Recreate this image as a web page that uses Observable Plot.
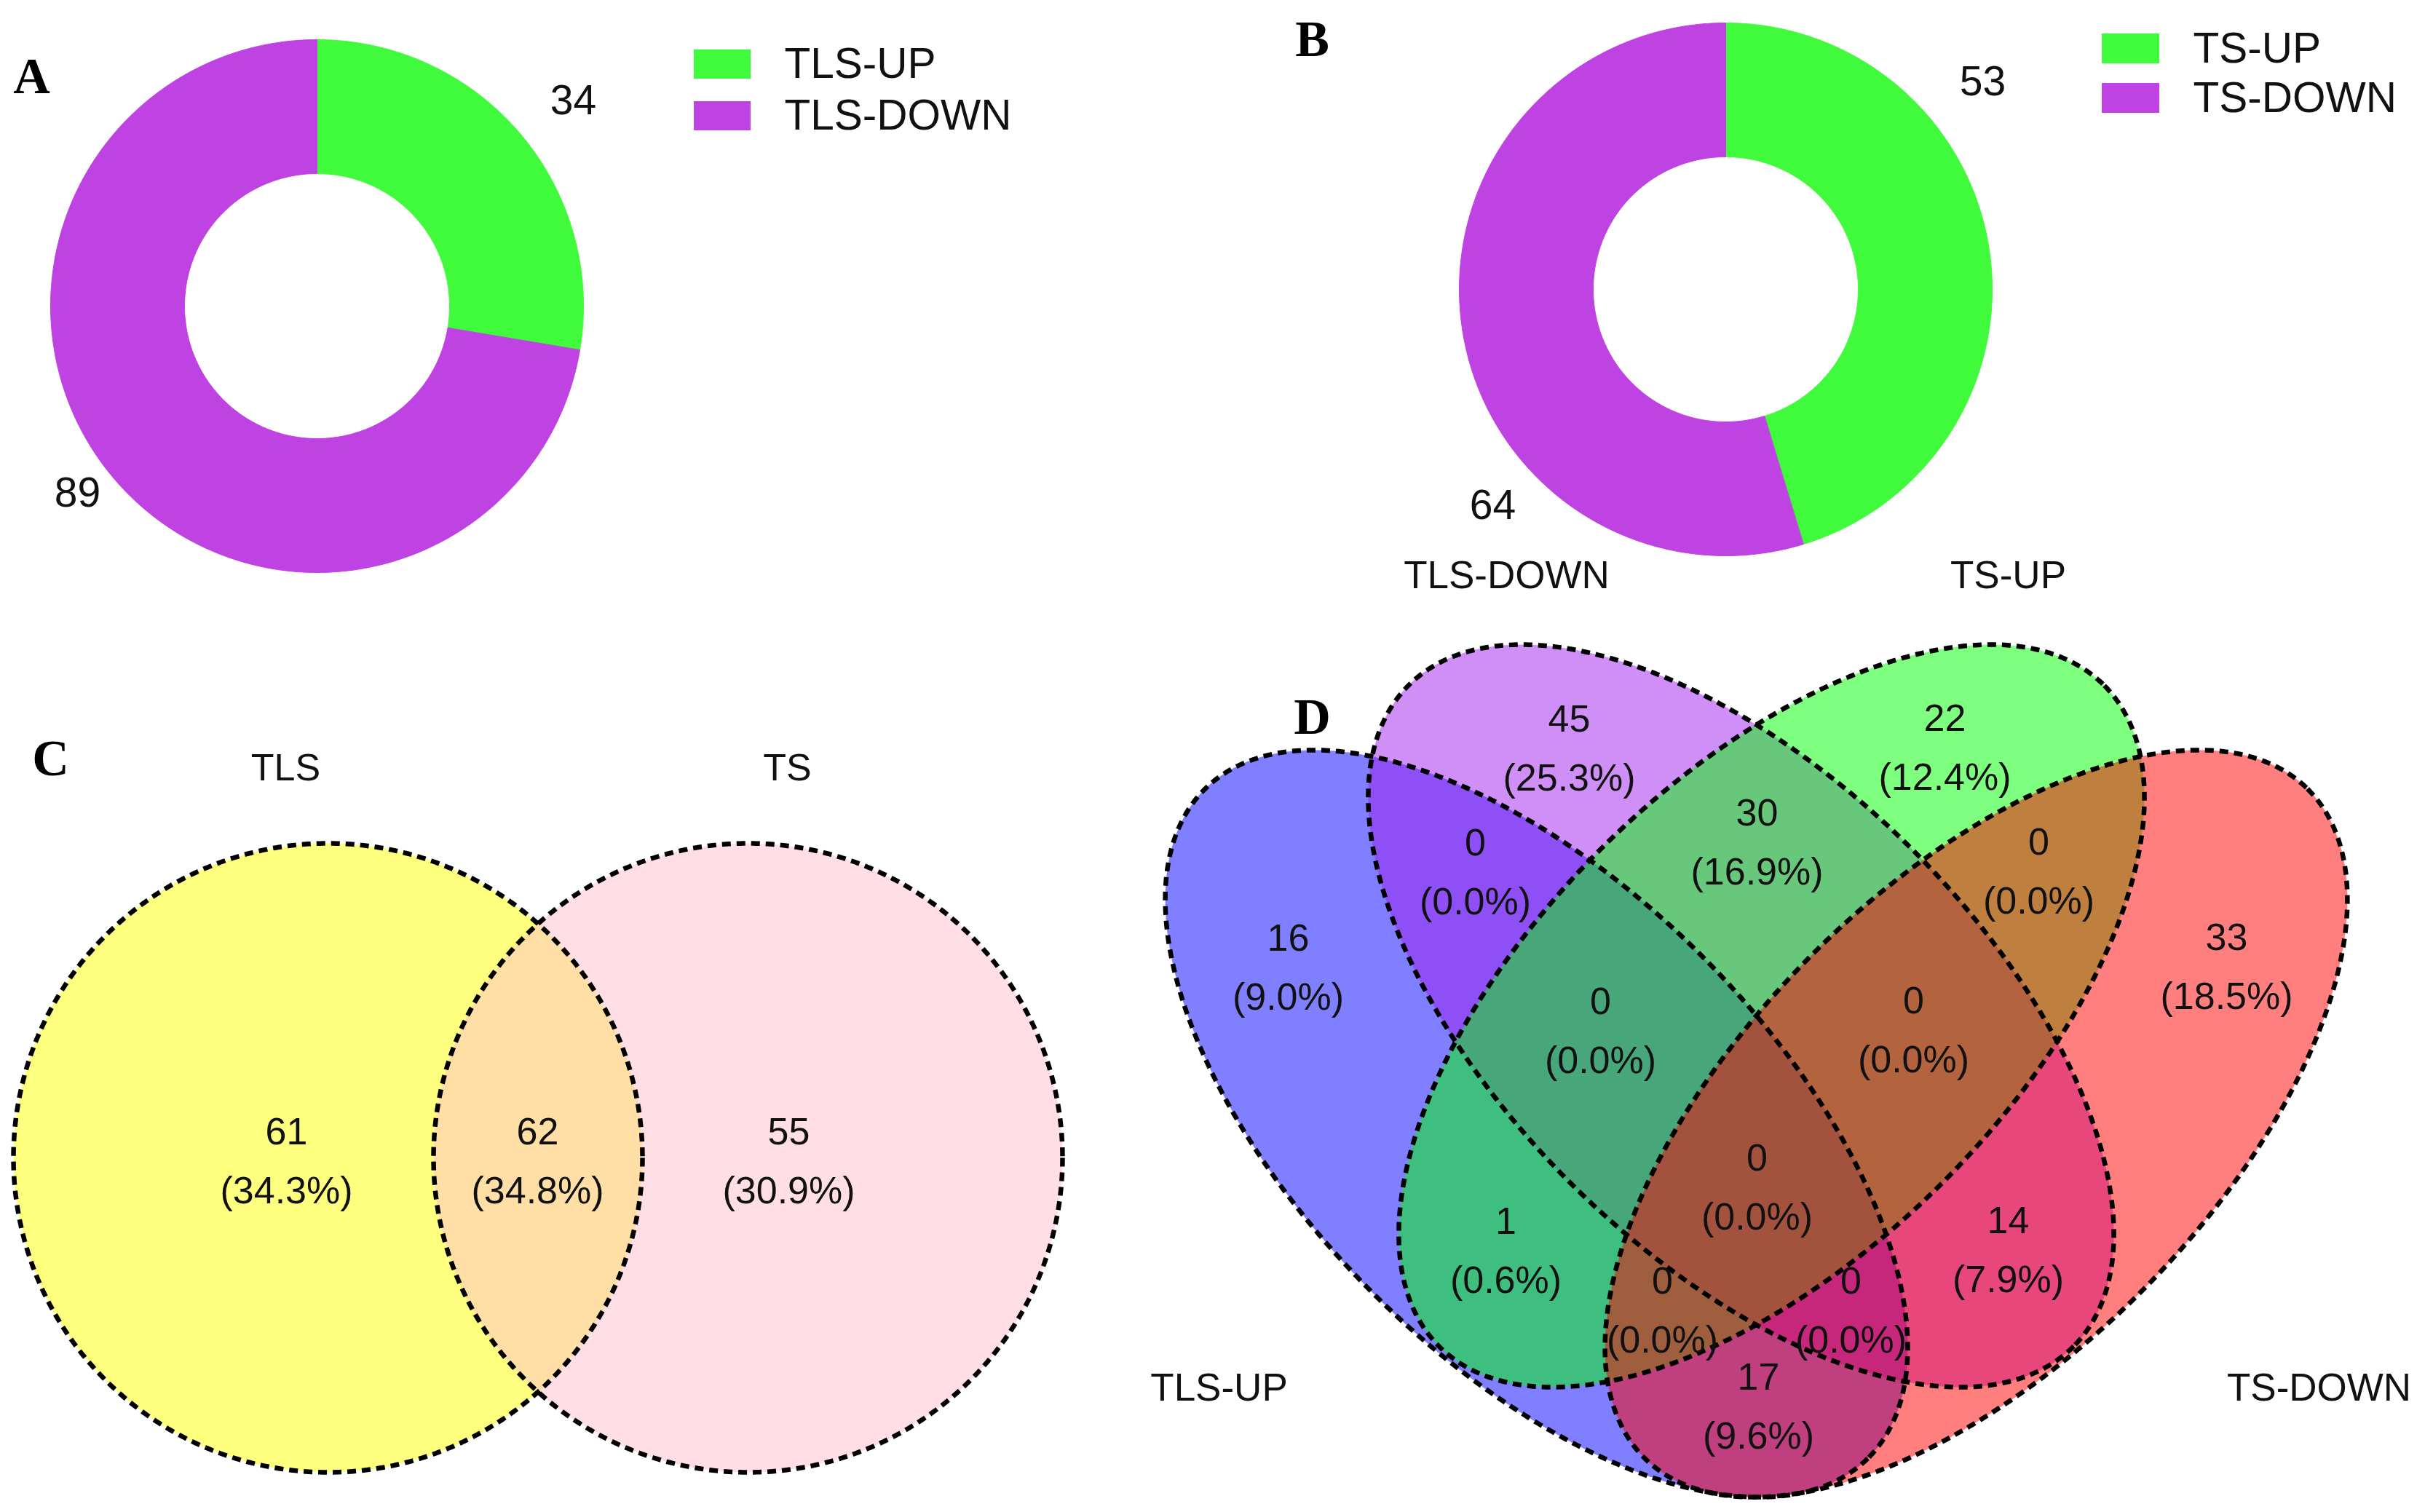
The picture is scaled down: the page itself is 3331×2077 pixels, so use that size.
<!DOCTYPE html>
<html>
<head>
<meta charset="utf-8">
<script src="https://cdn.jsdelivr.net/npm/d3@7"></script>
<script src="https://cdn.jsdelivr.net/npm/@observablehq/plot@0.6"></script>
<style>
  html, body { margin: 0; padding: 0; background: #fff; }
  #chart { width: 3331px; height: 2077px; overflow: hidden; }
</style>
</head>
<body>
<div id="chart"></div>
<script>
// ---------------- DATA ----------------
const tlsCategories = ["TLS-UP", "TLS-DOWN"];
const tlsValues = [34, 89];
const tsCategories = ["TS-UP", "TS-DOWN"];
const tsValues = [53, 64];

const venn2Sets = ["TLS", "TS"];
const venn2Regions = ["TLS only", "TLS & TS", "TS only"];
const venn2Counts = [61, 62, 55];

const venn4Sets = ["TLS-UP", "TLS-DOWN", "TS-UP", "TS-DOWN"];
const venn4Regions = [
  "TLS-UP", "TLS-DOWN", "TS-UP", "TS-DOWN",
  "TLS-UP&TLS-DOWN", "TLS-DOWN&TS-UP", "TS-UP&TS-DOWN",
  "TLS-UP&TLS-DOWN&TS-UP", "TLS-DOWN&TS-UP&TS-DOWN", "ALL",
  "TLS-UP&TS-UP", "TLS-DOWN&TS-DOWN",
  "TLS-UP&TS-UP&TS-DOWN", "TLS-UP&TLS-DOWN&TS-DOWN", "TLS-UP&TS-DOWN"
];
const venn4Counts = [16, 45, 22, 33, 0, 30, 0, 0, 0, 0, 1, 14, 0, 0, 17];

// ---------------- LAYOUT / STYLE ----------------
const W = 3331, H = 2077;
const sans = "'Liberation Sans', Arial, Helvetica, sans-serif";
const serif = "'Liberation Serif', 'Times New Roman', serif";
const pieColors = ["#40FB3C", "#BF43E3"];

const donutA = {cx: 435, cy: 420, R: 366, r: 182};
const donutB = {cx: 2370, cy: 397, R: 366, r: 182};
const pieLabelPosA = [[787, 138], [106, 677]];
const pieLabelPosB = [[2723, 112], [2050, 694]];
const legendA = {x: 953, y: 68, w: 78, h: 40, step: 71, tx: 1077};
const legendB = {x: 2887, y: 46, w: 79, h: 41, step: 68, tx: 3012};

const circlesC = [
  {cx: 450, cy: 1590, r: 432, fill: "#FFFF00"},
  {cx: 1027, cy: 1590, r: 432, fill: "#FFC0CB"}
];
const setLabelPosC = [[392, 1055], [1081, 1055]];
const regionLabelPosC = [[393, 1595], [738, 1595], [1083, 1595]];

const ellipsesD = [
  {cx: 2110, cy: 1543, a: 647, b: 323.5, angle: 45.3, fill: "#0000FF"},
  {cx: 2391, cy: 1395, a: 644, b: 328, angle: 44.8, fill: "#A020F0"},
  {cx: 2433, cy: 1395, a: 644, b: 328, angle: -44.8, fill: "#00FF00"},
  {cx: 2714, cy: 1543, a: 647, b: 323.5, angle: -45.3, fill: "#FF0000"}
];
const regionLabelPosD = [
  [1769, 1329], [2155, 1028], [2671, 1027], [3058, 1328],
  [2026, 1198], [2413, 1157], [2800, 1197],
  [2198, 1416], [2628, 1415], [2413, 1631],
  [2068, 1718], [2758, 1717],
  [2283, 1800], [2542, 1800], [2415, 1932]
];
const setLabelPosD = [[1674, 1907], [2069, 791], [2758, 791], [3185, 1907]];
const panelLetters = [["A", 43, 105], ["B", 1802, 54], ["C", 69, 1042], ["D", 1802, 985]];
const twoLineShift = -9; // compensates Plot's multi-line vertical anchoring

// ---------------- GEOMETRY HELPERS ----------------
function donutRows(values, cats, d) {
  const arcs = d3.pie().sort(null)(values);
  const rows = [];
  arcs.forEach((a, i) => {
    const n = 240;
    for (let k = 0; k <= n; k++) {
      const t = a.startAngle + (a.endAngle - a.startAngle) * k / n;
      rows.push({id: cats[i], i, x: d.cx + d.R * Math.sin(t), y: d.cy - d.R * Math.cos(t)});
    }
    for (let k = n; k >= 0; k--) {
      const t = a.startAngle + (a.endAngle - a.startAngle) * k / n;
      rows.push({id: cats[i], i, x: d.cx + d.r * Math.sin(t), y: d.cy - d.r * Math.cos(t)});
    }
  });
  return rows;
}
function ellipseRows(e) {
  const rows = [];
  const phi = e.angle * Math.PI / 180;
  const a = e.a ?? e.r, b = e.b ?? e.r;
  for (let k = 0; k < 720; k++) {
    const t = k / 720 * 2 * Math.PI;
    const u = a * Math.cos(t), v = b * Math.sin(t);
    rows.push({
      x: e.cx + u * Math.cos(phi) - v * Math.sin(phi),
      y: e.cy + u * Math.sin(phi) + v * Math.cos(phi)
    });
  }
  return rows;
}

// ---------------- MARKS ----------------
const marks = [];

// Donuts A and B
function addDonut(values, cats, d, labelPos, legend) {
  const rows = donutRows(values, cats, d);
  cats.forEach((c, i) => {
    marks.push(Plot.line(rows.filter(r => r.i === i), {
      x: "x", y: "y", curve: "linear-closed",
      fill: pieColors[i], stroke: pieColors[i], strokeWidth: 1
    }));
  });
  marks.push(Plot.text(values, {
    x: (v, i) => labelPos[i][0], y: (v, i) => labelPos[i][1],
    text: v => String(v), fontSize: 57, fontFamily: sans, fill: "#111"
  }));
  const leg = cats.map((c, i) => ({c, i}));
  marks.push(Plot.rect(leg, {
    x1: legend.x, x2: legend.x + legend.w,
    y1: d => legend.y + d.i * legend.step, y2: d => legend.y + d.i * legend.step + legend.h,
    fill: d => pieColors[d.i]
  }));
  marks.push(Plot.text(leg, {
    x: legend.tx, y: d => legend.y + d.i * legend.step + legend.h / 2,
    text: "c", textAnchor: "start", fontSize: 58.5, fontFamily: sans, fill: "#111"
  }));
}
addDonut(tlsValues, tlsCategories, donutA, pieLabelPosA, legendA);
addDonut(tsValues, tsCategories, donutB, pieLabelPosB, legendB);

// Dashed outline style
const dash = {stroke: "#000", strokeWidth: 6.5, strokeDasharray: "12,8", strokeLinecap: "butt", fill: "none", curve: "linear-closed"};

// Venn C
const cRows = circlesC.map(c => ellipseRows({...c, angle: 0}));
cRows.forEach((rows, i) => marks.push(Plot.line(rows, {x: "x", y: "y", curve: "linear-closed", fill: circlesC[i].fill, fillOpacity: 0.5, stroke: "none"})));
cRows.forEach(rows => marks.push(Plot.line(rows, {x: "x", y: "y", ...dash})));
const totalC = d3.sum(venn2Counts);
marks.push(Plot.text(venn2Counts, {
  x: (v, i) => regionLabelPosC[i][0], y: (v, i) => regionLabelPosC[i][1],
  text: v => `${v}\n(${(v / totalC * 100).toFixed(1)}%)`,
  lineHeight: 1.56, fontSize: 52, fontFamily: sans, fill: "#111", dy: twoLineShift
}));
marks.push(Plot.text(venn2Sets, {
  x: (v, i) => setLabelPosC[i][0], y: (v, i) => setLabelPosC[i][1],
  text: d => d, fontSize: 52, fontFamily: sans, fill: "#111"
}));

// Venn D
const dRows = ellipsesD.map(e => ellipseRows(e));
dRows.forEach((rows, i) => marks.push(Plot.line(rows, {x: "x", y: "y", curve: "linear-closed", fill: ellipsesD[i].fill, fillOpacity: 0.5, stroke: "none"})));
dRows.forEach(rows => marks.push(Plot.line(rows, {x: "x", y: "y", ...dash})));
const totalD = d3.sum(venn4Counts);
marks.push(Plot.text(venn4Counts, {
  x: (v, i) => regionLabelPosD[i][0], y: (v, i) => regionLabelPosD[i][1],
  text: v => `${v}\n(${(v / totalD * 100).toFixed(1)}%)`,
  lineHeight: 1.57, fontSize: 52, fontFamily: sans, fill: "#111", dy: twoLineShift
}));
marks.push(Plot.text(venn4Sets, {
  x: (v, i) => setLabelPosD[i][0], y: (v, i) => setLabelPosD[i][1],
  text: d => d, fontSize: 53, fontFamily: sans, fill: "#111"
}));

// Panel letters
marks.push(Plot.text(panelLetters, {
  x: d => d[1], y: d => d[2], text: d => d[0],
  fontSize: 70, fontWeight: "bold", fontFamily: serif, fill: "#000"
}));

const chart = Plot.plot({
  width: W, height: H, margin: 0,
  x: {domain: [0, W], range: [0, W], axis: null},
  y: {domain: [0, H], range: [0, H], axis: null},
  style: {background: "#fff", fontFamily: sans},
  marks
});
document.getElementById("chart").appendChild(chart);
</script>
</body>
</html>
